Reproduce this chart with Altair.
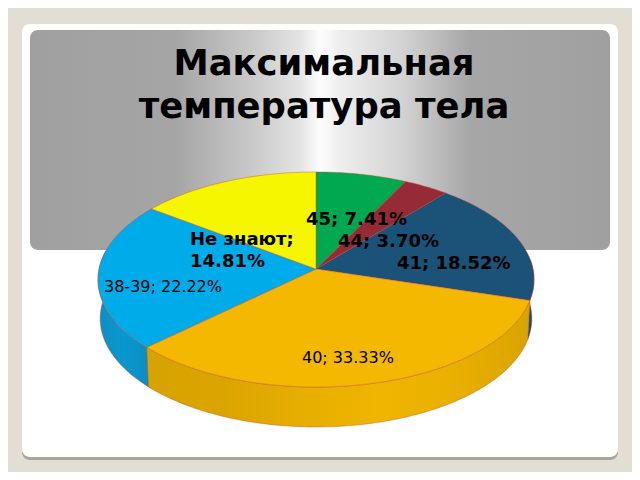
import math
import altair as alt
import pandas as pd

# Chart values
categories = ["45", "44", "41", "40", "38-39", "Не знают"]
shares = [7.41, 3.70, 18.52, 33.33, 22.22, 14.81]
face_colors = ["#00A94F", "#962B37", "#1B5277", "#F5B800", "#00ABE9", "#F6F600"]
labels = ["45; 7.41%", "44; 3.70%", "41; 18.52%", "40; 33.33%", "38-39; 22.22%"]
title_lines = ["Максимальная", "температура тела"]

# Tilted-disc view of the pie: far edge looks smaller than the near edge
TILT = 0.0976
DEPTH = 0.366
LOWER_X = 0.99
LOWER_Y = 1.008


def rim(angle, lower=False):
    a = math.radians(angle)
    w = 1 + TILT * math.cos(a)
    x, y = math.sin(a) / w, math.cos(a) / w
    if lower:
        return x * LOWER_X, y * LOWER_Y - DEPTH
    return x, y


def arc_steps(a0, a1):
    n = max(2, int(abs(a1 - a0)) + 1)
    return [a0 + (a1 - a0) * i / n for i in range(n + 1)]


total = sum(shares)
bounds = [0.0]
for s in shares:
    bounds.append(bounds[-1] + s / total * 360)

faces = []
for cat, a0, a1 in zip(categories, bounds[:-1], bounds[1:]):
    pts = [(0.0, 0.0)] + [rim(a) for a in arc_steps(a0, a1)] + [(0.0, 0.0)]
    faces += [{"slice": cat, "i": i, "x": x, "y": y} for i, (x, y) in enumerate(pts)]
faces = pd.DataFrame(faces)


def side_table(a0, a1):
    steps = arc_steps(a0, a1)
    pts = [rim(a) for a in steps] + [rim(a, True) for a in reversed(steps)]
    pts.append(pts[0])
    return pd.DataFrame([{"i": i, "x": x, "y": y} for i, (x, y) in enumerate(pts)])


x_scale = alt.Scale(domain=[-1, 1], range=[91, 525], nice=False, zero=False)
y_scale = alt.Scale(domain=[-1, 1], range=[367.5, 154.5], nice=False, zero=False)
X = alt.X("x:Q", scale=x_scale, axis=None)
Y = alt.Y("y:Q", scale=y_scale, axis=None)
EDGE = dict(stroke="#C9452F", strokeWidth=0.5, strokeOpacity=0.8)


def gradient(stops):
    return alt.Gradient(
        gradient="linear", x1=0, x2=1, y1=0, y2=0,
        stops=[alt.GradientStop(offset=o, color=c) for o, c in stops],
    )


def even(colors):
    n = len(colors) - 1
    return gradient([(i / n, c) for i, c in enumerate(colors)])


def side(a0, a1, colors):
    return alt.Chart(side_table(a0, a1)).mark_line(fill=even(colors), **EDGE).encode(
        x=X, y=Y, order="i:Q"
    )


def box(x0, y0, x1, y1, fill, radius):
    return alt.Chart(pd.DataFrame({"a": [0]})).mark_rect(fill=fill, cornerRadius=radius).encode(
        x=alt.value(x0 - 8), x2=alt.value(x1 - 8), y=alt.value(y0 - 8), y2=alt.value(y1 - 8)
    )


def note(text, px, py, size, weight="normal"):
    return alt.Chart(pd.DataFrame({"t": [text]})).mark_text(
        align="left", baseline="alphabetic", font="DejaVu Sans", fontSize=size,
        fontWeight=weight, color="#000000",
    ).encode(x=alt.value(px - 8), y=alt.value(py - 8), text="t:N")


def centered(text, py):
    return alt.Chart(pd.DataFrame({"t": [text]})).mark_text(
        align="center", baseline="alphabetic", font="DejaVu Sans", fontSize=35.4,
        fontWeight="bold", color="#000000",
    ).encode(x=alt.value(324 - 8), y=alt.value(py - 8), text="t:N")


header_fill = gradient([
    (0, "#A0A0A0"), (0.25, "#A5A5A5"), (0.38, "#C8C8C8"), (0.466, "#E4E4E4"),
    (0.5, "#FDFDFD"), (0.534, "#EEEEEE"), (0.638, "#D4D4D4"), (0.76, "#A6A6A6"), (1, "#A0A0A0"),
])

top_faces = alt.Chart(faces).mark_line(**EDGE).encode(
    x=X, y=Y, order="i:Q", detail="slice:N",
    fill=alt.Fill("slice:N", scale=alt.Scale(domain=categories, range=face_colors), legend=None),
)

layers = [
    box(22, 27, 618, 460, "#A8A498", 8),
    box(22, 24, 618, 457, "#FFFFFF", 8),
    box(30, 30, 610, 250, header_fill, 8),
    centered(title_lines[0], 75),
    centered(title_lines[1], 118),
    side(226.0, 280.0, ["#0C8FC4", "#0A97CF", "#0C8DC0"]),
    side(85.0, 106.7, ["#1B4F73", "#1B4F73"]),
    side(106.7, 226.7, ["#D6A300", "#DBA500", "#E6AE00", "#EFB500", "#EAB000", "#D8A400"]),
    top_faces,
    note(labels[0], 306, 225, 18, "bold"),
    note(labels[1], 338, 247, 18, "bold"),
    note(labels[2], 397, 269, 18, "bold"),
    note("Не знают;", 190, 245, 18, "bold"),
    note("14.81%", 190, 267, 18, "bold"),
    note(labels[4], 104, 292, 16),
    note(labels[3], 302, 363, 16),
]

chart = alt.layer(*layers).properties(
    width=624,
    height=464,
    padding=0,
    autosize=alt.AutoSizeParams(type="none"),
    background="#E3DDD3",
).configure_view(stroke=None)

chart.save("out.html", embed_options={"renderer": "svg", "actions": False})
